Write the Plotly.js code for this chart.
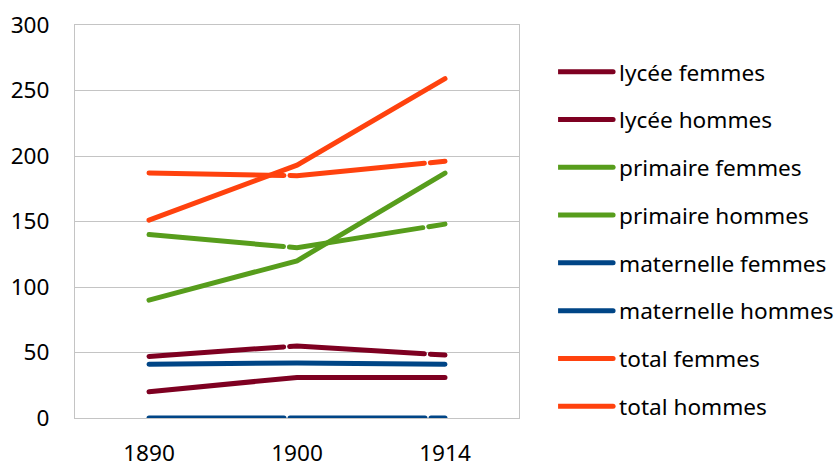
<!DOCTYPE html>
<html>
<head>
<meta charset="utf-8">
<script src="https://cdn.plot.ly/plotly-3.0.1.min.js"></script>
<style>html,body{margin:0;padding:0;background:#fff;}#chart{width:836px;height:461px;}</style>
</head>
<body>
<div id="chart"></div>
<script>
const years = ['1890', '1900', '1914'];
const seriesNames = ['lycée femmes', 'lycée hommes', 'primaire femmes', 'primaire hommes',
  'maternelle femmes', 'maternelle hommes', 'total femmes', 'total hommes'];
const lyceeFemmes = [20, 31, 31];
const lyceeHommes = [47, 55, 48];
const primaireFemmes = [90, 120, 187];
const primaireHommes = [140, 130, 148];
const maternelleFemmes = [41, 42, 41];
const maternelleHommes = [0, 0, 0];
const totalFemmes = [151, 193, 259];
const totalHommes = [187, 185, 196];
const seriesValues = [lyceeFemmes, lyceeHommes, primaireFemmes, primaireHommes,
  maternelleFemmes, maternelleHommes, totalFemmes, totalHommes];
const seriesColors = ['#7e0021', '#7e0021', '#579d1c', '#579d1c', '#004586', '#004586', '#ff420e', '#ff420e'];
const yTicks = [0, 50, 100, 150, 200, 250, 300];

const FONT = '"Noto Sans", "Open Sans", sans-serif';

const traces = seriesNames.map((name, i) => ({
  type: 'scatter',
  mode: 'lines',
  name: name,
  x: years,
  y: seriesValues[i],
  legendgroup: 'g' + i,
  line: {
    color: seriesColors[i],
    width: 5,
    dash: (i % 2 === 1) ? '135px,6px' : 'solid'
  },
  hoverinfo: 'x+y+name'
}));

const layout = {
  width: 836,
  height: 461,
  margin: {l: 75, r: 317, t: 25, b: 43, autoexpand: false},
  paper_bgcolor: '#ffffff',
  plot_bgcolor: '#ffffff',
  font: {family: FONT, size: 23, color: '#000000'},
  showlegend: true,
  legend: {
    x: 1.088,
    xanchor: 'left',
    y: 0.935,
    yanchor: 'top',
    traceorder: 'grouped',
    tracegroupgap: 15.4,
    font: {family: FONT, size: 22.6, color: '#000000'},
    bgcolor: 'rgba(0,0,0,0)',
    itemwidth: 51
  },
  xaxis: {
    type: 'category',
    range: [-0.5, 2.5],
    showgrid: false,
    showline: true,
    linecolor: '#c4c4c4',
    linewidth: 1,
    mirror: true,
    ticks: '',
    ticklabelstandoff: 15,
    tickfont: {family: FONT, size: 22.6, color: '#000000'},
    zeroline: false
  },
  yaxis: {
    range: [0, 300],
    tickvals: yTicks,
    ticktext: yTicks.map(String),
    showgrid: true,
    gridcolor: '#c4c4c4',
    gridwidth: 1,
    showline: true,
    linecolor: '#c4c4c4',
    linewidth: 1,
    mirror: true,
    ticks: '',
    ticklabelstandoff: 20,
    tickfont: {family: FONT, size: 22.6, color: '#000000'},
    zeroline: false
  }
};

Plotly.newPlot('chart', traces, layout, {displayModeBar: false, staticPlot: true}).then(gd => {
  gd.querySelectorAll('.legend .legendlines path').forEach(p => {
    p.setAttribute('d', 'M0,0h55');
    p.style.strokeLinecap = 'round';
  });
  gd.querySelectorAll('.scatterlayer .js-line').forEach(p => {
    p.style.strokeLinecap = 'round';
  });
});
</script>
</body>
</html>
